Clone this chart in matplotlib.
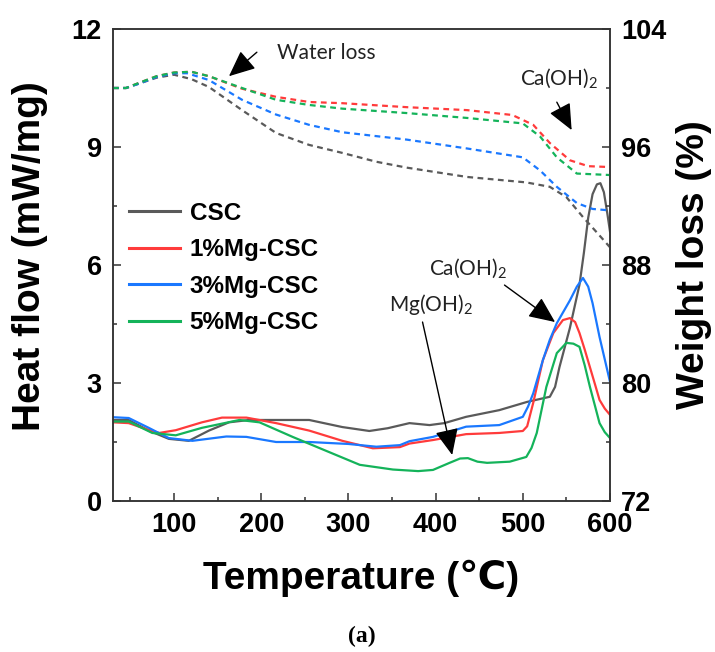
import matplotlib
matplotlib.use("Agg")
import matplotlib.pyplot as plt
from matplotlib.ticker import MultipleLocator

# ---------------- data ----------------
series_names = ["CSC", "1%Mg-CSC", "3%Mg-CSC", "5%Mg-CSC"]
colors = ["#5a5a5a", "#ff3b3b", "#1a78ff", "#14b35a"]

# Heat flow (mW/mg)
t_hf_csc = [30, 48, 71, 94, 117, 140, 163, 186, 255, 293, 324, 345, 370, 393, 410, 435, 473, 505, 531,
            537, 542, 548, 554, 560, 565, 570, 575, 580, 585, 589, 593, 597, 600]
hf_csc = [2.06, 2.06, 1.79, 1.58, 1.53, 1.79, 2.0, 2.06, 2.06, 1.88, 1.78, 1.85, 1.98, 1.93, 1.98, 2.14, 2.31, 2.52, 2.65,
          2.9, 3.4, 3.9, 4.4, 5.0, 5.5, 6.3, 7.2, 7.8, 8.05, 8.08, 7.85, 7.3, 6.85]

t_hf_1 = [30, 48, 65, 83, 102, 132, 155, 183, 217, 255, 293, 328, 359, 370, 397, 435, 473, 500, 505, 512, 523,
          535, 546, 554, 560, 565, 571, 577, 583, 588, 594, 600]
hf_1 = [2.0, 1.98, 1.85, 1.73, 1.8, 2.0, 2.12, 2.12, 1.98, 1.79, 1.53, 1.34, 1.37, 1.46, 1.55, 1.7, 1.73, 1.78, 1.9, 2.5, 3.58,
        4.27, 4.6, 4.65, 4.55, 4.27, 3.85, 3.4, 2.95, 2.57, 2.35, 2.19]

t_hf_3 = [30, 48, 71, 94, 121, 160, 183, 217, 255, 300, 332, 359, 370, 397, 435, 473, 500, 506, 512, 523, 531,
          539, 554, 562, 569, 575, 580, 588, 594, 600]
hf_3 = [2.13, 2.11, 1.86, 1.6, 1.53, 1.64, 1.63, 1.5, 1.5, 1.45, 1.38, 1.42, 1.52, 1.63, 1.89, 1.93, 2.14, 2.4, 2.74, 3.58, 4.1,
        4.52, 5.1, 5.45, 5.67, 5.45, 5.03, 4.17, 3.6, 3.03]

t_hf_5 = [30, 48, 75, 102, 132, 175, 198, 236, 275, 313, 351, 380, 397, 416, 428, 437, 448, 459, 485, 504, 510,
          516, 527, 539, 550, 558, 565, 571, 577, 583, 588, 594, 600]
hf_5 = [2.02, 2.02, 1.73, 1.67, 1.86, 2.06, 2.0, 1.63, 1.27, 0.92, 0.8, 0.76, 0.79, 0.97, 1.08, 1.09, 1.0, 0.97, 1.0, 1.12, 1.35,
        1.73, 2.9, 3.76, 4.02, 4.0, 3.92, 3.45, 2.9, 2.4, 1.98, 1.75, 1.6]

# Weight loss (%)
t_wl_csc = [30, 45, 60, 80, 100, 120, 140, 178, 217, 255, 293, 332, 367, 436, 504, 531, 550, 569, 585, 600]
wl_csc = [100.0, 100.0, 100.3, 100.7, 100.9, 100.6, 100.07, 98.5, 96.95, 96.14, 95.6, 95.0, 94.6, 93.97, 93.6, 93.3,
          92.6, 91.25, 90.2, 89.2]

t_wl_1 = [30, 45, 60, 80, 100, 120, 140, 178, 217, 255, 293, 367, 436, 488, 512, 531, 554, 575, 600]
wl_1 = [100.0, 100.0, 100.35, 100.8, 101.05, 101.1, 100.8, 99.95, 99.4, 99.05, 98.97, 98.7, 98.5, 98.17, 97.5, 96.27,
        95.1, 94.7, 94.64]

t_wl_3 = [30, 45, 60, 80, 100, 115, 140, 178, 217, 255, 293, 367, 436, 500, 520, 539, 562, 580, 600]
wl_3 = [100.0, 100.0, 100.3, 100.75, 101.0, 101.0, 100.54, 99.2, 98.2, 97.5, 97.0, 96.5, 95.9, 95.3, 94.4, 93.3,
        92.2, 91.8, 91.7]

t_wl_5 = [30, 45, 60, 80, 100, 120, 140, 178, 217, 255, 293, 367, 436, 500, 520, 539, 562, 600]
wl_5 = [100.0, 100.0, 100.35, 100.8, 101.05, 101.1, 100.8, 100.0, 99.2, 98.85, 98.6, 98.3, 97.97, 97.6, 96.7, 95.3,
        94.2, 94.1]

x_ticks = [100, 200, 300, 400, 500, 600]
hf_ticks = [0, 3, 6, 9, 12]
wl_ticks = [72, 80, 88, 96, 104]

# ---------------- style ----------------
plt.rcParams["font.family"] = ["Liberation Sans", "DejaVu Sans"]
plt.rcParams["mathtext.fontset"] = "custom"
plt.rcParams["mathtext.rm"] = "Lato"
plt.rcParams["mathtext.default"] = "rm"

W, H = 715, 652
fig = plt.figure(figsize=(W / 100, H / 100), dpi=100)
L, R, T, B = 113, 610, 29, 501
ax = fig.add_axes([L / W, 1 - B / H, (R - L) / W, (B - T) / H])
ax2 = ax.twinx()

hf_t = [t_hf_csc, t_hf_1, t_hf_3, t_hf_5]
hf_v = [hf_csc, hf_1, hf_3, hf_5]
wl_t = [t_wl_csc, t_wl_1, t_wl_3, t_wl_5]
wl_v = [wl_csc, wl_1, wl_3, wl_5]

for name, c, tx, v in zip(series_names, colors, hf_t, hf_v):
    ax.plot(tx, v, color=c, lw=1.6, label=name, solid_joinstyle="round")
for c, tx, v in zip(colors, wl_t, wl_v):
    ax2.plot(tx, v, color=c, lw=1.6, dashes=(2.6, 2.0))

ax.set_xlim(30, 600)
ax.set_ylim(0, 12)
ax2.set_ylim(72, 104)
ax.set_xticks(x_ticks)
ax.set_yticks(hf_ticks)
ax2.set_yticks(wl_ticks)
ax.xaxis.set_minor_locator(MultipleLocator(50))
ax.yaxis.set_minor_locator(MultipleLocator(1.5))
ax2.yaxis.set_minor_locator(MultipleLocator(4))

for a in (ax, ax2):
    for s in a.spines.values():
        s.set_linewidth(1.1)
        s.set_color("#333333")
ax.tick_params(which="both", direction="in", top=False, right=False, color="#333333", width=1.1)
ax.tick_params(which="major", length=6, pad=8, labelsize=19.5)
ax.tick_params(which="minor", length=3)
ax2.tick_params(which="both", direction="in", color="#333333", width=1.1)
ax2.tick_params(which="major", length=6, pad=8, labelsize=19.5)
ax2.tick_params(which="minor", length=3)
for lab in ax.get_xticklabels() + ax.get_yticklabels() + ax2.get_yticklabels():
    lab.set_fontweight("bold")

fig.text(361 / W, 1 - 578 / H, "Temperature (℃)", fontsize=28, fontweight="bold",
         ha="center", va="center", family=["Liberation Sans", "DejaVu Sans"])
fig.text(30 / W, 1 - 256 / H, "Heat flow (mW/mg)", fontsize=28, fontweight="bold",
         ha="center", va="center", rotation=90)
fig.text(694 / W, 1 - 265 / H, "Weight loss (%)", fontsize=28, fontweight="bold",
         ha="center", va="center", rotation=90)
fig.text(362 / W, 1 - 636 / H, "(a)", fontsize=17, family="Liberation Serif", fontweight="bold",
         ha="center", va="center")

leg = ax.legend(loc="center left", bbox_to_anchor=(129 / W, 1 - 268 / H), bbox_transform=fig.transFigure,
                frameon=False, borderpad=0, borderaxespad=0, handlelength=2.1, handletextpad=0.4,
                labelspacing=0.55, prop={"weight": "bold", "size": 17.5})
for line in leg.get_lines():
    line.set_linewidth(2.2)

ann_font = dict(fontsize=15, family="Lato", color="#222222")
arrow = dict(arrowstyle="-|>,head_length=0.9,head_width=0.4", color="black", lw=1.0,
             mutation_scale=18, shrinkA=0, shrinkB=0)

ax.text(218, 11.39, "Water loss", ha="left", va="center", **ann_font)
ax.annotate("", xy=(163, 10.8), xytext=(195, 11.41), arrowprops=arrow)

ax.text(542, 10.75, "Ca(OH)$_2$", ha="center", va="center", **ann_font)
ax.annotate("", xy=(556, 9.43), xytext=(539, 10.14), arrowprops=arrow)

ax.text(437, 5.92, "Ca(OH)$_2$", ha="center", va="center", **ann_font)
ax.annotate("", xy=(537, 4.55), xytext=(479, 5.49), arrowprops=arrow)

ax.text(395, 5.0, "Mg(OH)$_2$", ha="center", va="center", **ann_font)
ax.annotate("", xy=(419, 1.17), xytext=(385, 4.55), arrowprops=arrow)

fig.savefig("out.png", dpi=100)
